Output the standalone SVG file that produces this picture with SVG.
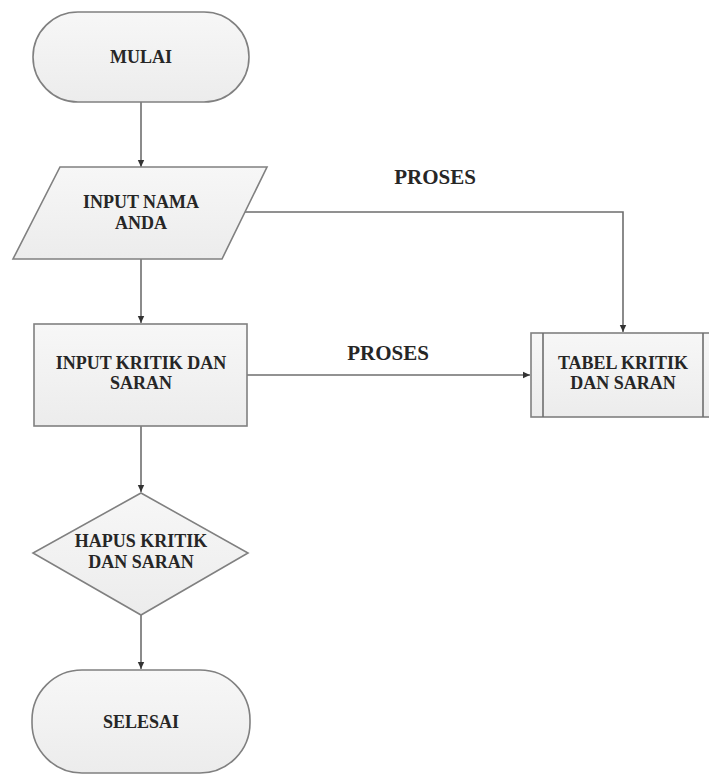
<svg xmlns="http://www.w3.org/2000/svg" width="709" height="774" viewBox="0 0 709 774">
  <defs>
    <linearGradient id="shade" x1="0" y1="0" x2="0" y2="1">
      <stop offset="0" stop-color="#f7f7f7"/>
      <stop offset="1" stop-color="#ececec"/>
    </linearGradient>
    <marker id="arrow" markerWidth="8" markerHeight="8" refX="7" refY="4" orient="auto" markerUnits="userSpaceOnUse">
      <path d="M0,0.8 L7,4 L0,7.2 Z" fill="#333"/>
    </marker>
  </defs>
  <style>
    .shape { fill: url(#shade); stroke: #808080; stroke-width: 1.6; }
    .line { fill: none; stroke: #6e6e6e; stroke-width: 1.6; }
    text { font-family: "Liberation Serif", "Times New Roman", serif; font-weight: bold; font-size: 18px; fill: #262626; text-anchor: middle; }
    .label { font-size: 21px; }
  </style>
  <rect width="709" height="774" fill="#ffffff"/>

  <!-- connectors -->
  <g id="connectors">
    <line class="line" x1="141" y1="102" x2="141" y2="167" marker-end="url(#arrow)"/>
    <line class="line" x1="141" y1="259" x2="141" y2="323" marker-end="url(#arrow)"/>
    <line class="line" x1="141" y1="426" x2="141" y2="492" marker-end="url(#arrow)"/>
    <line class="line" x1="141" y1="615" x2="141" y2="669" marker-end="url(#arrow)"/>
    <polyline class="line" points="244,212 623,212 623,332" marker-end="url(#arrow)"/>
    <line class="line" x1="247" y1="375" x2="530" y2="375" marker-end="url(#arrow)"/>
    <text class="label" x="435" y="184">PROSES</text>
    <text class="label" x="388" y="360">PROSES</text>
  </g>

  <!-- start terminal -->
  <g id="mulai">
    <rect class="shape" x="33" y="12" width="216" height="90" rx="45" ry="45"/>
    <text x="141" y="63">MULAI</text>
  </g>

  <!-- name input -->
  <g id="input-nama">
    <polygon class="shape" points="60,167 267,167 222,259 13,259"/>
    <text x="141" y="208">INPUT NAMA</text>
    <text x="141" y="229">ANDA</text>
  </g>

  <!-- feedback input -->
  <g id="input-kritik">
    <rect class="shape" x="34" y="324" width="213" height="102"/>
    <text x="141" y="369">INPUT KRITIK DAN</text>
    <text x="141" y="389">SARAN</text>
  </g>

  <!-- storage table -->
  <g id="tabel-kritik">
    <rect class="shape" x="531" y="333" width="185" height="84"/>
    <line class="line" x1="543" y1="333" x2="543" y2="417"/>
    <line class="line" x1="703" y1="333" x2="703" y2="417"/>
    <text x="623" y="369">TABEL KRITIK</text>
    <text x="623" y="389">DAN SARAN</text>
  </g>

  <!-- delete decision -->
  <g id="hapus-kritik">
    <polygon class="shape" points="141,493 248,553 141,615 33,553"/>
    <text x="141" y="547">HAPUS KRITIK</text>
    <text x="141" y="568">DAN SARAN</text>
  </g>

  <!-- end terminal -->
  <g id="selesai">
    <rect class="shape" x="32" y="670" width="218" height="103" rx="50" ry="50"/>
    <text x="141" y="728">SELESAI</text>
  </g>
</svg>
